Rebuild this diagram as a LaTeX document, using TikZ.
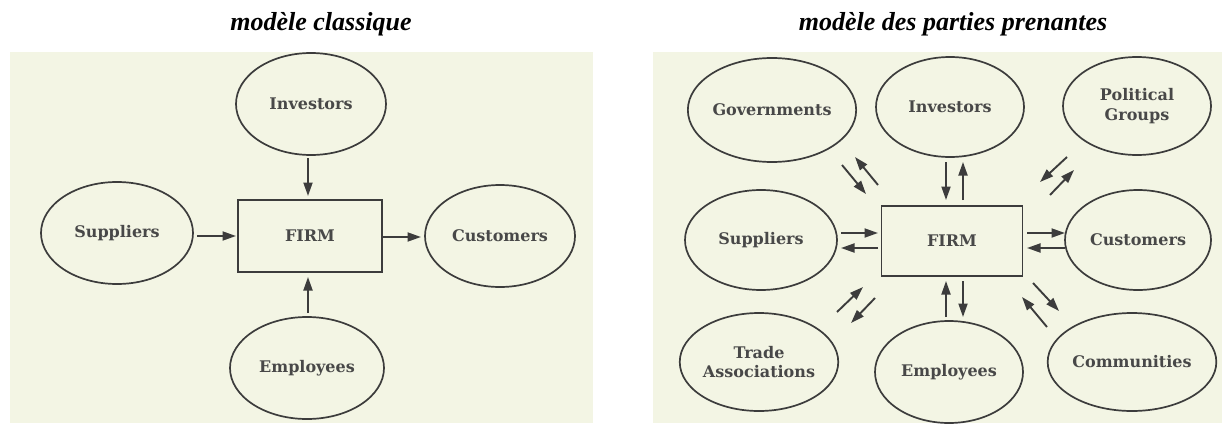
\documentclass[tikz,border=0pt]{standalone}
\usepackage{fontspec}
\usetikzlibrary{shapes.geometric,arrows.meta}
\newfontfamily\titlefont{Liberation Serif}
\newfontfamily\labfont{DejaVu Serif}
\definecolor{bgcol}{RGB}{243,245,228}
\definecolor{inkcol}{RGB}{60,60,60}
\definecolor{txtcol}{RGB}{72,72,72}
\tikzset{
  panel/.style={fill=bgcol, draw=none},
  titletext/.style={font=\titlefont\bfseries\itshape\fontsize{26}{30}\selectfont, text=black, anchor=base, inner sep=0pt},
  party/.style={ellipse, draw=inkcol, line width=1.7pt, inner sep=0pt, align=center,
    font=\labfont\bfseries\fontsize{16}{19.5}\selectfont, text=txtcol},
  firmbox/.style={rectangle, draw=inkcol, line width=1.7pt, inner sep=0pt,
    font=\labfont\bfseries\fontsize{16}{19.5}\selectfont, text=txtcol},
  arr/.style={draw=inkcol, line width=1.9pt, -{Triangle[length=13.5pt,width=9pt]}},
}
\begin{document}
\begin{tikzpicture}[x=1pt,y=-1pt]
\useasboundingbox (0,0) rectangle (1222,423);
% backgrounds
\fill[panel] (10,52) rectangle (593,423);
\fill[panel] (653,52) rectangle (1222,423);
% titles
\node[titletext] (t1) at (321,30.5) {modèle classique};
\node[titletext] (t2) at (953,30.5) {modèle des parties prenantes};

% ---------- left: classical model
\node[party, minimum width=150pt, minimum height=102pt] (linv) at (311,104) {Investors};
\node[party, minimum width=152pt, minimum height=102pt] (lsup) at (117,233) {Suppliers};
\node[party, minimum width=150pt, minimum height=102pt] (lcus) at (500,236) {Customers};
\node[party, minimum width=154pt, minimum height=102pt] (lemp) at (307,368) {Employees};
\node[firmbox, minimum width=144pt, minimum height=72pt] (lfirm) at (310,236) {FIRM};

\coordinate (la1) at (308,158); \coordinate (la2) at (308,196);
\coordinate (lb1) at (197,236); \coordinate (lb2) at (236,236);
\coordinate (lc1) at (383,237); \coordinate (lc2) at (421,237);
\coordinate (ld1) at (308,313); \coordinate (ld2) at (308,277);
\draw[arr] (la1) -- (la2);
\draw[arr] (lb1) -- (lb2);
\draw[arr] (lc1) -- (lc2);
\draw[arr] (ld1) -- (ld2);

% ---------- right: stakeholder model
\node[party, minimum width=150pt, minimum height=104pt] (rgov) at (772,110) {Governments};
\node[party, minimum width=148pt, minimum height=100pt] (rinv) at (950,107) {Investors};
\node[party, minimum width=148pt, minimum height=98pt] (rpol) at (1137,106) {Political\\Groups};
\node[party, minimum width=152pt, minimum height=100pt] (rsup) at (761,240) {Suppliers};
\node[party, minimum width=146pt, minimum height=100pt] (rcus) at (1138,240) {Customers};
\node[party, minimum width=148pt, minimum height=98pt] (rtra) at (759,362) {Trade\\Associations};
\node[party, minimum width=148pt, minimum height=102pt] (remp) at (949,372) {Employees};
\node[party, minimum width=154pt, minimum height=98pt] (rcom) at (1132,362) {Communities};
\node[firmbox, minimum width=141pt, minimum height=70pt] (rfirm) at (952,241) {FIRM};

% vertical pairs
\coordinate (v1a) at (946,162); \coordinate (v1b) at (946,200);
\coordinate (v2a) at (963,200); \coordinate (v2b) at (963,162);
\coordinate (v3a) at (946,317); \coordinate (v3b) at (946,281);
\coordinate (v4a) at (963,281); \coordinate (v4b) at (963,317);
\draw[arr] (v1a) -- (v1b);
\draw[arr] (v2a) -- (v2b);
\draw[arr] (v3a) -- (v3b);
\draw[arr] (v4a) -- (v4b);
% horizontal pairs
\coordinate (h1a) at (841,233); \coordinate (h1b) at (878,233);
\coordinate (h2a) at (878,248); \coordinate (h2b) at (841,248);
\coordinate (h3a) at (1027,233); \coordinate (h3b) at (1065,233);
\coordinate (h4a) at (1065,248); \coordinate (h4b) at (1027,248);
\draw[arr] (h1a) -- (h1b);
\draw[arr] (h2a) -- (h2b);
\draw[arr] (h3a) -- (h3b);
\draw[arr] (h4a) -- (h4b);
% diagonal pairs
\coordinate (d1a) at (842,165); \coordinate (d1b) at (866,194);
\coordinate (d2a) at (878,185); \coordinate (d2b) at (855,157);
\coordinate (d3a) at (1067,157); \coordinate (d3b) at (1040,182);
\coordinate (d4a) at (1050,195); \coordinate (d4b) at (1074,170);
\coordinate (d5a) at (837,312); \coordinate (d5b) at (863,287);
\coordinate (d6a) at (875,298); \coordinate (d6b) at (851,323);
\coordinate (d7a) at (1033,283); \coordinate (d7b) at (1059,311);
\coordinate (d8a) at (1047,327); \coordinate (d8b) at (1022,297);
\draw[arr] (d1a) -- (d1b);
\draw[arr] (d2a) -- (d2b);
\draw[arr] (d3a) -- (d3b);
\draw[arr] (d4a) -- (d4b);
\draw[arr] (d5a) -- (d5b);
\draw[arr] (d6a) -- (d6b);
\draw[arr] (d7a) -- (d7b);
\draw[arr] (d8a) -- (d8b);
\end{tikzpicture}
\end{document}
